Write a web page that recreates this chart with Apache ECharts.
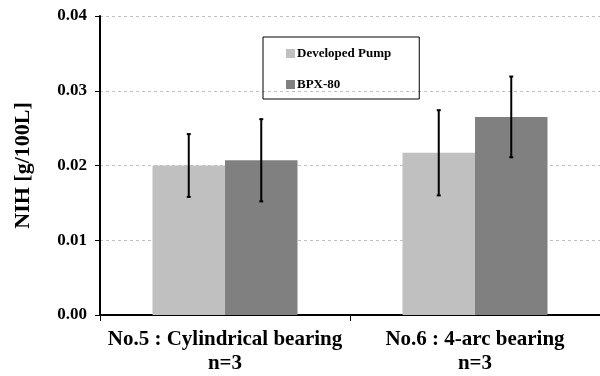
<!DOCTYPE html>
<html><head><meta charset="utf-8">
<script src="https://cdn.jsdelivr.net/npm/echarts@6/dist/echarts.min.js"></script>
<style>html,body{margin:0;padding:0;background:#fff}#c{width:600px;height:376px}</style>
</head><body><div id="c"></div>
<script>
const categories = ['No.5 : Cylindrical bearing\nn=3', 'No.6 : 4-arc bearing\nn=3'];
const seriesNames = ['Developed Pump', 'BPX-80'];
const developedPump = [0.0200, 0.0217];
const bpx80 = [0.0207, 0.0265];
const developedPumpErr = [0.0042, 0.0057];
const bpx80Err = [0.0055, 0.0054];
const yTicks = [0, 0.01, 0.02, 0.03, 0.04];

const GAP = 0.42;
const font = '"Liberation Serif","Times New Roman",serif';
const chart = echarts.init(document.getElementById('c'));

function errSeries(vals, errs, side) {
  return {
    type: 'custom',
    data: vals.map((v, i) => [i, v, errs[i]]),
    z: 10,
    renderItem: function (params, api) {
      const i = api.value(0), v = api.value(1), e = api.value(2);
      const catW = api.size([1, 0])[0];
      const bw = catW * (1 - GAP) / 2;
      const c = api.coord([i, v]);
      const x = c[0] + side * bw / 2;
      const top = api.coord([i, v + e])[1];
      const bot = api.coord([i, v - e])[1];
      const st = { stroke: '#000', lineWidth: 2 };
      return {
        type: 'group', children: [
          { type: 'line', shape: { x1: x, y1: top, x2: x, y2: bot }, style: st },
          { type: 'line', shape: { x1: x - 2, y1: top, x2: x + 2, y2: top }, style: st },
          { type: 'line', shape: { x1: x - 2, y1: bot, x2: x + 2, y2: bot }, style: st }
        ]
      };
    }
  };
}

chart.setOption({
  animation: false,
  backgroundColor: '#fff',
  grid: { left: 100, right: 0, top: 16, bottom: 61 },
  legend: {
    data: seriesNames,
    orient: 'vertical',
    left: 263, top: 37,
    padding: [10, 28, 8, 23],
    itemGap: 18,
    itemWidth: 9, itemHeight: 9,
    borderColor: '#000', borderWidth: 1,
    icon: 'rect',
    textStyle: { fontFamily: font, fontWeight: 'bold', fontSize: 13, color: '#000', padding: [0, 0, 0, -3] }
  },
  xAxis: {
    type: 'category',
    data: categories,
    axisLine: { lineStyle: { color: '#000', width: 2 } },
    axisTick: { show: true, interval: 0, length: 6, lineStyle: { color: '#000', width: 1 } },
    axisLabel: { interval: 0, hideOverlap: false, fontFamily: font, fontWeight: 'bold', fontSize: 21, color: '#000', lineHeight: 24, margin: 13 }
  },
  yAxis: {
    type: 'value',
    min: 0, max: 0.04, interval: 0.01,
    name: 'NIH [g/100L]',
    nameLocation: 'middle',
    nameGap: 66,
    nameTextStyle: { fontFamily: font, fontWeight: 'bold', fontSize: 22, color: '#000' },
    axisLine: { show: true, lineStyle: { color: '#000', width: 2 } },
    axisTick: { show: true, length: 5, lineStyle: { color: '#000', width: 1 } },
    axisLabel: {
      fontFamily: font, fontWeight: 'bold', fontSize: 17, color: '#000', margin: 13,
      formatter: v => yTicks.includes(+v.toFixed(2)) ? v.toFixed(2) : ''
    },
    splitLine: { lineStyle: { color: '#c0c0c0', type: [3, 3], width: 1 } }
  },
  series: [
    { name: seriesNames[0], type: 'bar', data: developedPump, barGap: '0%', barCategoryGap: (GAP * 100) + '%',
      itemStyle: { color: '#c0c0c0' } },
    { name: seriesNames[1], type: 'bar', data: bpx80, barGap: '0%', barCategoryGap: (GAP * 100) + '%',
      itemStyle: { color: '#808080' } },
    errSeries(developedPump, developedPumpErr, -1),
    errSeries(bpx80, bpx80Err, 1)
  ]
});
</script></body></html>
